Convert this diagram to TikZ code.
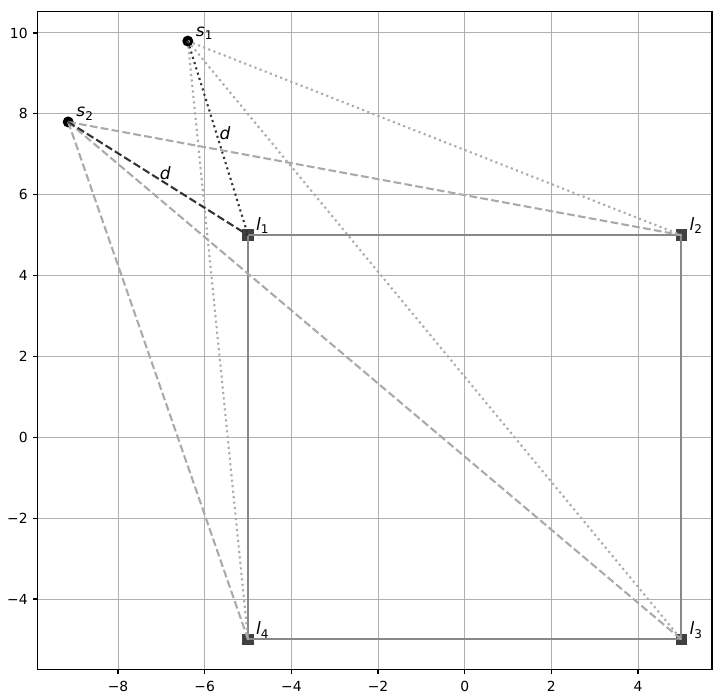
\documentclass[tikz,border=0pt]{standalone}
\usepackage{fontspec}
\setmainfont{DejaVu Sans}
\definecolor{gridc}{HTML}{B0B0B0}
\definecolor{lightl}{HTML}{AAAAAA}
\definecolor{darkl}{HTML}{333333}
\definecolor{boxl}{HTML}{888888}
\definecolor{markc}{HTML}{404040}
\newcommand\lbl[2]{\textit{#1}\raisebox{-0.22em}{\fontsize{12}{12}\selectfont #2}}
\tikzset{
  gridline/.style={draw=gridc, line width=1pt},
  frameline/.style={draw=black, line width=1.11pt},
  tickline/.style={draw=black, line width=1.11pt},
  ticklab/.style={inner sep=0pt, font=\fontsize{13.9}{13.9}\selectfont},
  lab/.style={inner sep=0pt, font=\fontsize{17}{17}\selectfont},
  dotl/.style={line width=2.08pt, dash pattern=on 2.08pt off 3.43pt},
  dashl/.style={line width=2.08pt, dash pattern=on 7.7pt off 3.33pt},
  boxside/.style={draw=boxl, line width=2.08pt},
  lmark/.style={rectangle, fill=markc, minimum size=11.5pt, inner sep=0pt},
  smark/.style={circle, fill=black, minimum size=11pt, inner sep=0pt},
}
\begin{document}
\begin{tikzpicture}[x=43.333pt,y=40.43pt]
\useasboundingbox (-10.724,-6.423) rectangle (6.007,10.816);
\fill[white] (-10.724,-6.423) rectangle (6.007,10.816);
% grid
\foreach \x in {-8,-6,...,4} \draw[gridline] (\x,-5.74) -- (\x,10.54);
\foreach \y in {-4,-2,...,10} \draw[gridline] (-9.858,\y) -- (5.708,\y);
% ticks and labels
\foreach \x/\t in {-8/−8,-6/−6,-4/−4,-2/−2,0/0,2/2,4/4} {
  \draw[tickline] (\x,-5.74) -- ++(0,-4.86pt);
  \node[ticklab] (xt\x) at ([yshift=-17pt]\x,-5.74) {\t};
}
\foreach \y/\t in {-4/−4,-2/−2,0/0,2/2,4/4,6/6,8/8,10/10} {
  \draw[tickline] (-9.858,\y) -- ++(-4.86pt,0);
  \node[ticklab, anchor=east] (yt\y) at ([xshift=-9.7pt]-9.858,\y) {\t};
}
% markers
\node[lmark] (l1) at (-5,5) {};
\node[lmark] (l2) at (5,5) {};
\node[lmark] (l3) at (5,-5) {};
\node[lmark] (l4) at (-5,-5) {};
\node[smark] (s1) at (-6.39,9.8) {};
\node[smark] (s2) at (-9.15,7.8) {};
% square
\draw[boxside] (l1.center) -- (l2.center) -- (l3.center) -- (l4.center) -- cycle;
% s1 dotted
\foreach \l in {l2,l3,l4} \draw[dotl, lightl] (s1.center) -- (\l.center);
\draw[dotl, darkl] (s1.center) -- (l1.center);
% s2 dashed
\foreach \l in {l2,l3,l4} \draw[dashl, lightl] (s2.center) -- (\l.center);
\draw[dashl, darkl] (s2.center) -- (l1.center);
% labels
\node[lab, anchor=base west] (ls1) at ([shift={(8pt,5pt)}]s1.center) {\lbl{s}{1}};
\node[lab, anchor=base west] (ls2) at ([shift={(8pt,5pt)}]s2.center) {\lbl{s}{2}};
\node[lab, anchor=base west] (ll1) at ([shift={(8pt,5pt)}]l1.center) {\lbl{l}{1}};
\node[lab, anchor=base west] (ll2) at ([shift={(8pt,5pt)}]l2.center) {\lbl{l}{2}};
\node[lab, anchor=base west] (ll3) at ([shift={(8pt,5pt)}]l3.center) {\lbl{l}{3}};
\node[lab, anchor=base west] (ll4) at ([shift={(8pt,5pt)}]l4.center) {\lbl{l}{4}};
\node[lab] (d1) at (-5.53,7.53) {\textit{d}};
\node[lab] (d2) at (-6.91,6.53) {\textit{d}};
% frame
\draw[frameline] (-9.858,-5.74) rectangle (5.708,10.54);
\end{tikzpicture}
\end{document}
